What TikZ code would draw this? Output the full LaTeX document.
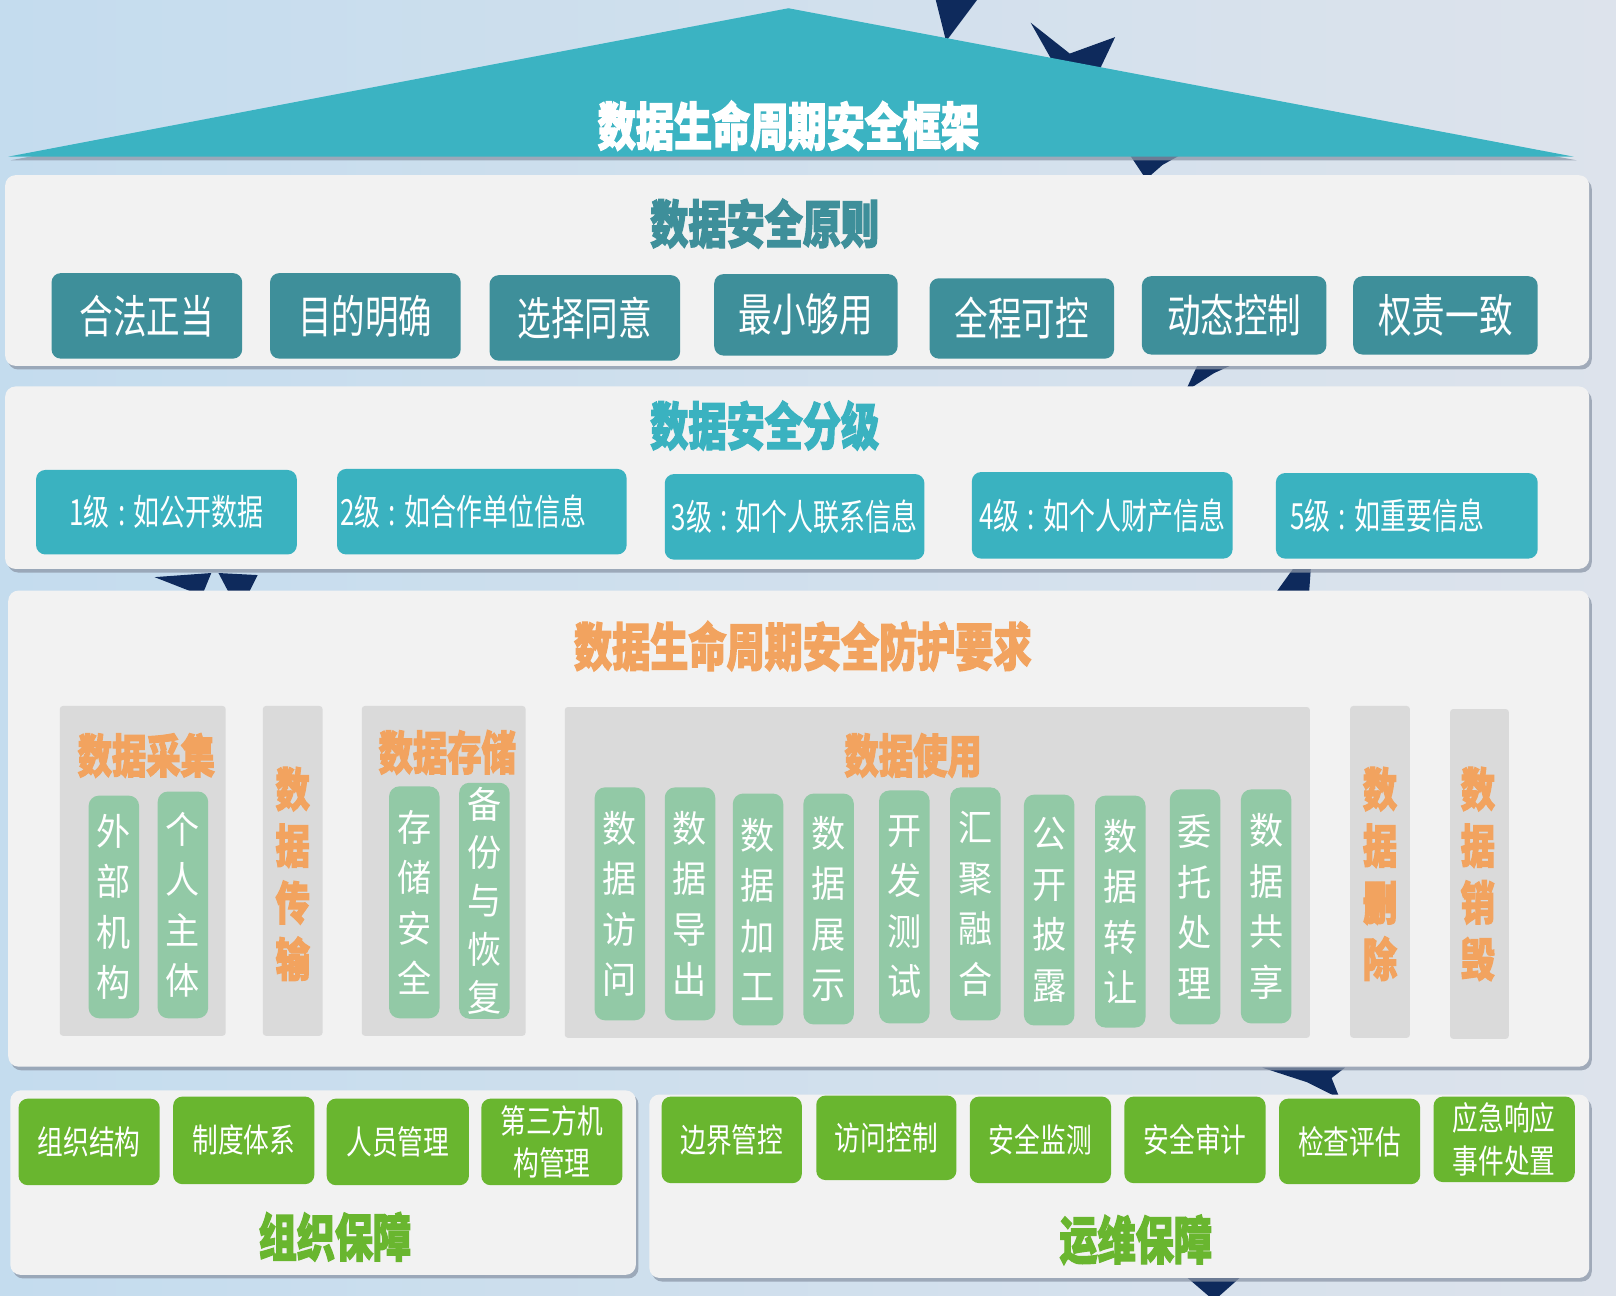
\documentclass[tikz,border=0pt]{standalone}
\usepackage{fontspec}
\setmainfont{Noto Sans CJK SC}
\newfontfamily\hdfont[FakeStretch=0.74,FakeBold=2.2]{Noto Sans CJK SC}
\newfontfamily\btnfont[FakeStretch=0.74]{Noto Sans CJK SC}
\newfontfamily\lvlfont[FakeStretch=0.72]{Noto Sans CJK SC}
\newfontfamily\pillfont[FakeStretch=0.92]{Noto Sans CJK SC}
\newfontfamily\grnfont[FakeStretch=0.78]{Noto Sans CJK SC}
\newcommand\lvcolon{\hspace{8pt}:\hspace{8pt}}
\usetikzlibrary{shadows}
\definecolor{bgL}{HTML}{C4DCEE}
\definecolor{bgR}{HTML}{DDE3EC}
\definecolor{roof}{HTML}{3BB3C2}
\definecolor{panel}{HTML}{F2F2F2}
\definecolor{tealD}{HTML}{3E8F9A}
\definecolor{tealL}{HTML}{3AB2C0}
\definecolor{orng}{HTML}{F2A35F}
\definecolor{colgray}{HTML}{DADADA}
\definecolor{pillc}{HTML}{92C9A6}
\definecolor{grn}{HTML}{69B62F}
\definecolor{navy}{HTML}{0E2A5C}
\definecolor{shd}{HTML}{8C97A8}
\begin{document}
\begin{tikzpicture}[x=1pt,y=-1pt,
  softshadow/.style={drop shadow={shadow xshift=2.5pt, shadow yshift=-3.5pt, fill=shd, opacity=0.75}},
  panelbox/.style={fill=panel, rounded corners=10pt, inner sep=0pt, softshadow},
  hd/.style={font=\hdfont\bfseries\fontsize{50}{54}\selectfont, inner sep=0pt},
  colhd/.style={font=\hdfont\bfseries\fontsize{45}{55}\selectfont, text=orng, inner sep=0pt, align=center},
  tbtn/.style={fill=tealD, rounded corners=9pt, text=white, font=\btnfont\fontsize{44}{48}\selectfont, inner sep=0pt},
  lbtn/.style={fill=tealL, rounded corners=9pt, text=white, font=\lvlfont\fontsize{35}{40}\selectfont, inner sep=0pt},
  colbox/.style={fill=colgray, rounded corners=3pt, inner sep=0pt},
  pill/.style={fill=pillc, rounded corners=10pt, text=white, font=\pillfont\fontsize{36}{49}\selectfont, align=center, inner sep=0pt, minimum width=49pt},
  gbtn/.style={fill=grn, rounded corners=9pt, text=white, font=\grnfont\fontsize{32}{41}\selectfont, align=center, inner sep=0pt, minimum width=137pt}
]
% background
\shade[left color=bgL, right color=bgR] (0,0) rectangle (1568,1257);
\useasboundingbox (0,0) rectangle (1568,1257);

% decorative navy star fragments
\fill[navy] (908,0) -- (948,0) -- (918,40) -- cycle;
\fill[navy] (1000,22) -- (1038,52) -- (1082,36) -- (1062,78) -- (1030,75) -- cycle;
\fill[navy] (1096,150) -- (1146,150) -- (1128,160) -- (1112,174) -- cycle;
\fill[navy] (1150,380) -- (1163,352) -- (1200,352) -- (1178,362) -- cycle;
\fill[navy] (150,560) -- (205,556) -- (196,578) -- cycle;
\fill[navy] (212,556) -- (250,558) -- (240,578) -- (222,575) -- cycle;
\fill[navy] (1238,575) -- (1256,550) -- (1272,550) -- (1270,578) -- cycle;
\fill[navy] (1225,1036) -- (1305,1036) -- (1292,1046) -- (1300,1066) -- (1268,1050) -- cycle;
\fill[navy] (1150,1238) -- (1178,1262) -- (1205,1238) -- cycle;

% roof
\coordinate (apex) at (765,8);
\coordinate (rl) at (8,152);
\coordinate (rr) at (1527,152);
\fill[roof, softshadow] (rl) -- (apex) -- (rr) -- cycle;
\node[hd, text=white] (t0) at (765,122) {数据生命周期安全框架};

% panel 1: principles
\node[panelbox, minimum width=1537pt, minimum height=185pt] (p1) at (773.5,262.5) {};
\node[hd, text=tealD] (t1) at (742,217) {数据安全原则};
\node[tbtn, minimum width=185pt, minimum height=83pt] (a1) at (142.5,306.5) {合法正当};
\node[tbtn, minimum width=185pt, minimum height=83pt] (a2) at (354.5,306.5) {目的明确};
\node[tbtn, minimum width=185pt, minimum height=83pt] (a3) at (567.5,308.5) {选择同意};
\node[tbtn, minimum width=178pt, minimum height=79pt] (a4) at (782,305.5) {最小够用};
\node[tbtn, minimum width=179pt, minimum height=78pt] (a5) at (991.5,309) {全程可控};
\node[tbtn, minimum width=179pt, minimum height=76pt] (a6) at (1197.5,306) {动态控制};
\node[tbtn, minimum width=179pt, minimum height=76pt] (a7) at (1402.5,306) {权责一致};

% panel 2: levels
\node[panelbox, minimum width=1537pt, minimum height=177pt] (p2) at (773.5,463.5) {};
\node[hd, text=tealL] (t2) at (742,413) {数据安全分级};
\node[lbtn, minimum width=253pt, minimum height=82pt] (b1) at (161.5,497) {1级\lvcolon 如公开数据};
\node[lbtn, minimum height=83pt, inner xsep=3pt, text width=275pt, align=left] (b2) at (467.5,496.5) {2级\lvcolon 如合作单位信息};
\node[lbtn, minimum width=252pt, minimum height=83pt] (b3) at (771,501.5) {3级\lvcolon 如个人联系信息};
\node[lbtn, minimum width=253pt, minimum height=84pt] (b4) at (1069.5,500) {4级\lvcolon 如个人财产信息};
\node[lbtn, minimum height=83pt, inner xsep=14pt, text width=226pt, align=left] (b5) at (1365,500.5) {5级\lvcolon 如重要信息};

% panel 3: lifecycle
\node[panelbox, minimum width=1534pt, minimum height=462pt] (p3) at (775,804) {};
\node[hd, text=orng] (t3) at (779,627) {数据生命周期安全防护要求};

\node[colbox, minimum width=161pt, minimum height=320pt] (c1) at (138.5,845) {};
\node[colbox, minimum width=58pt, minimum height=320pt] (c2) at (284,845) {};
\node[colbox, minimum width=159pt, minimum height=320pt] (c3) at (430.5,845) {};
\node[colbox, minimum width=723pt, minimum height=321pt] (c4) at (909.5,846.5) {};
\node[colbox, minimum width=58pt, minimum height=322pt] (c5) at (1339,846) {};
\node[colbox, minimum width=57pt, minimum height=320pt] (c6) at (1435.5,848) {};

\node[colhd] (h1) at (142,733) {数据采集};
\node[colhd] (h2) at (284,848) {数\\据\\传\\输};
\node[colhd] (h3) at (434,730) {数据存储};
\node[colhd] (h4) at (886,733) {数据使用};
\node[colhd] (h5) at (1339,848) {数\\据\\删\\除};
\node[colhd] (h6) at (1434,848) {数\\据\\销\\毁};

\node[pill, minimum height=216pt] (q1) at (110.5,880) {外\\部\\机\\构};
\node[pill, minimum height=220pt] (q2) at (177.5,878) {个\\人\\主\\体};
\node[pill, minimum height=225pt] (q3) at (402,875.5) {存\\储\\安\\全};
\node[pill, minimum height=229pt, font=\pillfont\fontsize{36}{47}\selectfont] (q4) at (470,874) {备\\份\\与\\恢\\复};

\node[pill, minimum height=226pt] (u1) at (601.5,877) {数\\据\\访\\问};
\node[pill, minimum height=226pt] (u2) at (669.5,877) {数\\据\\导\\出};
\node[pill, minimum height=225pt] (u3) at (735.5,882.5) {数\\据\\加\\工};
\node[pill, minimum height=224pt] (u4) at (804,882) {数\\据\\展\\示};
\node[pill, minimum height=226pt] (u5) at (877.5,880) {开\\发\\测\\试};
\node[pill, minimum height=226pt] (u6) at (946.5,877) {汇\\聚\\融\\合};
\node[pill, minimum height=224pt] (u7) at (1018,883) {公\\开\\披\\露};
\node[pill, minimum height=225pt] (u8) at (1087,884.5) {数\\据\\转\\让};
\node[pill, minimum height=228pt] (u9) at (1159.5,880) {委\\托\\处\\理};
\node[pill, minimum height=227pt] (u10) at (1228.5,879.5) {数\\据\\共\\享};

% panel 4: organisation
\node[panelbox, minimum width=607pt, minimum height=179pt] (p4) at (313.5,1147.5) {};
\node[gbtn, minimum height=84pt] (g1) at (86.5,1108) {组织结构};
\node[gbtn, minimum height=85pt] (g2) at (236.5,1106.5) {制度体系};
\node[gbtn, minimum height=84pt, minimum width=138pt] (g3) at (386,1108) {人员管理};
\node[gbtn, minimum height=84pt] (g4) at (535.5,1108) {第三方机\\构管理};
\node[hd, text=grn] (t4) at (325,1200) {组织保障};

% panel 5: operations
\node[panelbox, minimum width=912pt, minimum height=178pt] (p5) at (1086,1151) {};
\node[gbtn, minimum height=84pt, minimum width=136pt] (o1) at (710,1106) {边界管控};
\node[gbtn, minimum height=82pt, minimum width=136pt] (o2) at (860,1104) {访问控制};
\node[gbtn, minimum height=84pt] (o3) at (1009.5,1106) {安全监测};
\node[gbtn, minimum height=84pt] (o4) at (1159.5,1106) {安全审计};
\node[gbtn, minimum height=83pt] (o5) at (1309.5,1107.5) {检查评估};
\node[gbtn, minimum height=83pt] (o6) at (1459.5,1105.5) {应急响应\\事件处置};
\node[hd, text=grn] (t5) at (1102,1203) {运维保障};
\end{tikzpicture}
\end{document}
